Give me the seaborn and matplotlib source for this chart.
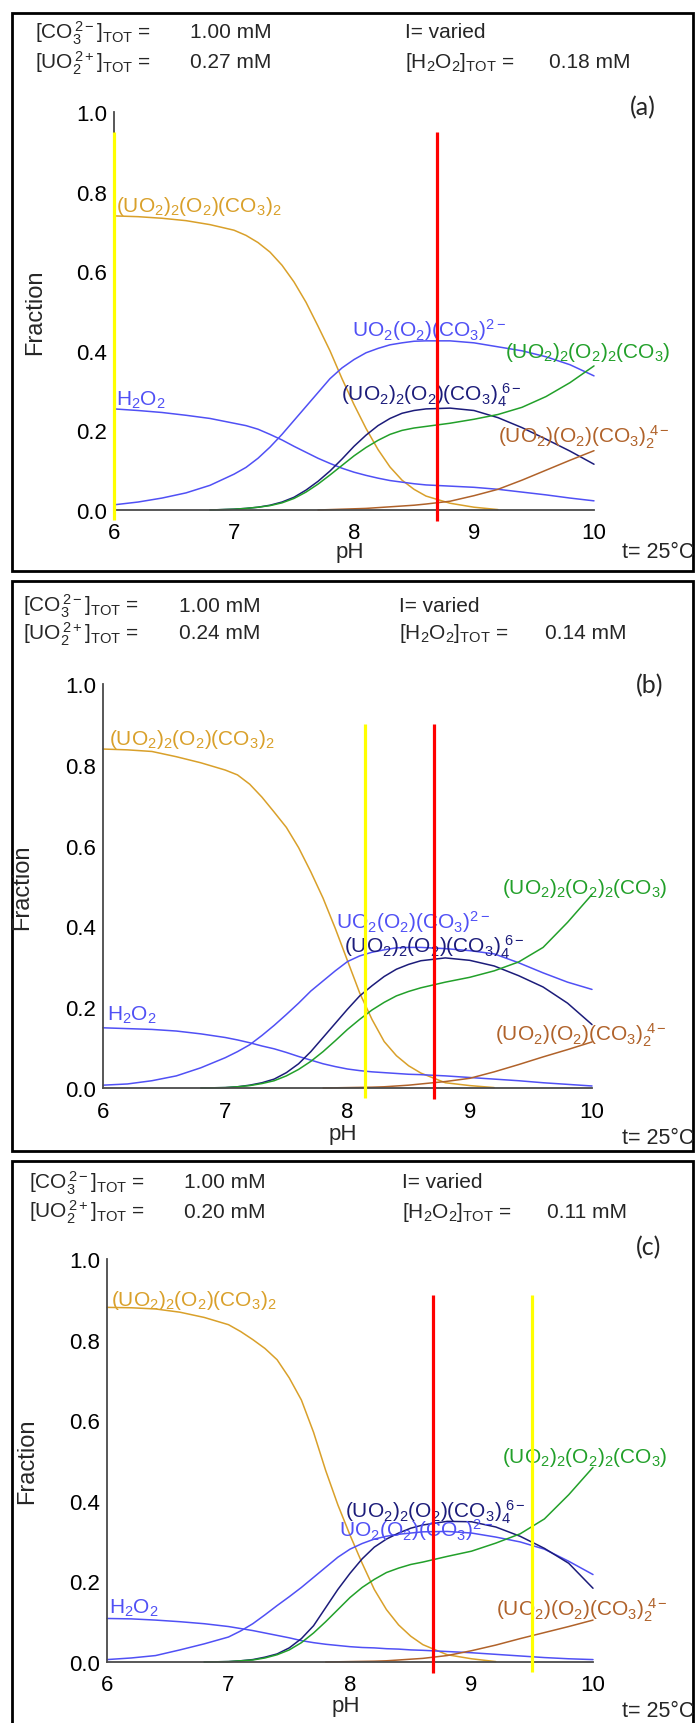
import numpy as np
import pandas as pd
import matplotlib
matplotlib.use("Agg")
import matplotlib.pyplot as plt
import seaborn as sns
from matplotlib.patches import Rectangle
from matplotlib.ticker import FixedLocator

# ---------------- data ----------------
ph = [6.0, 6.2, 6.4, 6.6, 6.8,
      7.0, 7.1, 7.2, 7.3, 7.4, 7.5, 7.6, 7.7, 7.8, 7.9, 8.0, 8.1, 8.2, 8.3, 8.4, 8.5, 8.6,
      8.8, 9.0, 9.2, 9.4, 9.6, 9.8, 10.0]
N = np.nan

# panel (a)
a_dimer_co3 = [.739, .737, .733, .727, .717,
               .703, .69, .672, .648, .615, .573, .522, .462, .40, .33, .265, .205, .152, .108, .075, .052, .035,
               .017, .007, .001, N, N, N, N]
a_mono = [.013, .02, .03, .043, .062,
          .09, .107, .13, .158, .19, .225, .26, .295, .33, .357, .378, .395, .406, .415, .42, .424, .425,
          .425, .42, .41, .40, .385, .365, .337]
a_h2o2 = [.254, .25, .245, .238, .23,
          .218, .212, .203, .19, .176, .16, .145, .13, .117, .105, .095, .087, .08, .074, .07, .066, .063,
          .06, .057, .052, .045, .038, .03, .023]
a_dimer_co34 = [N, N, N, N, 0.0,
                .002, .004, .007, .012, .02, .032, .05, .072, .098, .128, .16, .188, .212, .23, .243, .25, .254,
                .256, .25, .232, .207, .178, .148, .115]
a_dimer_o22 = [N, N, N, N, 0.0,
               .002, .004, .007, .011, .018, .029, .045, .065, .088, .112, .136, .157, .175, .19, .2, .206, .21,
               .218, .228, .24, .258, .285, .32, .362]
a_mono_co32 = [N, N, N, N, N,
               N, N, N, N, N, N, N, 0.0, .001, .002, .003, .004, .006, .008, .01, .012, .015,
               .022, .036, .052, .075, .1, .125, .149]

# panel (b)
b_dimer_co3 = [.839, .837, .833, .82, .805,
               .787, .775, .752, .72, .683, .645, .595, .535, .47, .395, .315, .235, .17, .115, .08, .055, .037,
               .013, .006, .001, N, N, N, N]
b_mono = [.007, .01, .018, .03, .05,
          .075, .09, .107, .13, .155, .182, .21, .24, .265, .29, .313, .327, .336, .342, .347, .348, .348,
          .345, .34, .332, .31, .285, .262, .244]
b_h2o2 = [.149, .147, .145, .141, .134,
          .125, .119, .112, .104, .097, .088, .078, .069, .06, .053, .047, .043, .04, .038, .036, .034, .033,
          .03, .026, .022, .018, .013, .009, .005]
b_dimer_co34 = [N, N, N, N, 0.0,
                .001, .003, .007, .013, .022, .038, .06, .09, .125, .16, .195, .228, .253, .276, .294, .306, .315,
                .322, .316, .302, .278, .25, .21, .157]
b_dimer_o22 = [N, N, N, N, 0.0,
               .001, .003, .006, .011, .018, .03, .046, .066, .09, .117, .145, .17, .193, .212, .228, .239, .248,
               .262, .274, .29, .312, .348, .41, .479]
b_mono_co32 = [N, N, N, N, N,
               N, N, N, N, N, N, N, N, 0.0, .0005, .001, .0015, .002, .003, .005, .007, .01,
               .016, .024, .04, .058, .077, .095, .114]

# panel (c)
c_dimer_co3 = [.88, .879, .876, .868, .855,
               .837, .82, .80, .778, .75, .705, .65, .57, .475, .39, .315, .245, .18, .13, .092, .064, .043,
               .018, .008, .001, N, N, N, N]
c_mono = [.006, .01, .016, .03, .045,
          .062, .077, .095, .117, .14, .162, .185, .21, .235, .26, .28, .294, .305, .312, .317, .32, .323,
          .324, .32, .31, .298, .28, .25, .217]
c_h2o2 = [.108, .107, .104, .1, .095,
          .088, .083, .078, .072, .066, .06, .053, .048, .044, .041, .038, .036, .035, .033, .032, .03, .029,
          .026, .023, .019, .015, .011, .008, .006]
c_dimer_co34 = [N, N, N, N, 0.0,
                .001, .003, .006, .012, .02, .035, .058, .09, .135, .18, .22, .256, .285, .305, .32, .332, .34,
                .349, .348, .335, .312, .282, .245, .183]
c_dimer_o22 = [N, N, N, N, 0.0,
               .001, .003, .005, .01, .018, .03, .048, .072, .1, .13, .16, .185, .205, .222, .233, .242, .248,
               .262, .275, .295, .318, .355, .415, .483]
c_mono_co32 = [N, N, N, N, N,
               N, N, N, N, N, N, N, N, 0.0, .0005, .001, .0015, .002, .003, .005, .007, .009,
               .016, .028, .042, .058, .073, .088, .104]

species = ["dimer_co3", "mono", "h2o2", "dimer_co34", "dimer_o22", "mono_co32"]
species_labels = {
    "dimer_co3": r"$\mathregular{(UO_2)_2(O_2)(CO_3)_2}$",
    "mono": r"$\mathregular{UO_2(O_2)(CO_3)^{2-}}$",
    "h2o2": r"$\mathregular{H_2O_2}$",
    "dimer_co34": r"$\mathregular{(UO_2)_2(O_2)(CO_3)_4^{\ 6-}}$",
    "dimer_o22": r"$\mathregular{(UO_2)_2(O_2)_2(CO_3)}$",
    "mono_co32": r"$\mathregular{(UO_2)(O_2)(CO_3)_2^{\ 4-}}$",
}
colors = {
    "dimer_co3": "#D9A02A",
    "mono": "#5050F5",
    "h2o2": "#5050F5",
    "dimer_co34": "#1C1C7A",
    "dimer_o22": "#22A02A",
    "mono_co32": "#B0622A",
}

panel_series = {
    "a": [a_dimer_co3, a_mono, a_h2o2, a_dimer_co34, a_dimer_o22, a_mono_co32],
    "b": [b_dimer_co3, b_mono, b_h2o2, b_dimer_co34, b_dimer_o22, b_mono_co32],
    "c": [c_dimer_co3, c_mono, c_h2o2, c_dimer_co34, c_dimer_o22, c_mono_co32],
}
co3_tot = ["1.00 mM", "1.00 mM", "1.00 mM"]
uo2_tot = ["0.27 mM", "0.24 mM", "0.20 mM"]
h2o2_tot = ["0.18 mM", "0.14 mM", "0.11 mM"]
yellow_ph = [6.0, 8.14, 9.50]
red_ph = [8.69, 8.71, 8.68]
vline_top = [0.95, 0.90, 0.91]

# label anchor positions (pH, fraction) per panel
label_pos = {
    "a": {"dimer_co3": (6.02, 0.765), "mono": (7.98, 0.455), "h2o2": (6.02, 0.279),
          "dimer_co34": (7.89, 0.29), "dimer_o22": (9.26, 0.397), "mono_co32": (9.2, 0.186)},
    "b": {"dimer_co3": (6.05, 0.864), "mono": (7.91, 0.413), "h2o2": (6.03, 0.183),
          "dimer_co34": (7.97, 0.351), "dimer_o22": (9.26, 0.497), "mono_co32": (9.21, 0.134)},
    "c": {"dimer_co3": (6.03, 0.90), "mono": (7.91, 0.33), "h2o2": (6.02, 0.136),
          "dimer_co34": (7.96, 0.375), "dimer_o22": (9.25, 0.511), "mono_co32": (9.2, 0.13)},
}

for k, lst in panel_series.items():
    for s in lst:
        assert len(s) == len(ph), (k, len(s))

# ---------------- style ----------------
sns.set_style("white")
plt.rcParams["font.family"] = ["Liberation Sans", "DejaVu Sans"]
plt.rcParams["mathtext.fontset"] = "custom"
plt.rcParams["mathtext.rm"] = "Liberation Sans"
plt.rcParams["mathtext.it"] = "Liberation Sans"
plt.rcParams["mathtext.default"] = "regular"

W, H = 695, 1724
fig = plt.figure(figsize=(W / 100, H / 100), dpi=100)

boxes = [(12, 14, 693, 572), (12, 582, 693, 1152), (12, 1162, 693, 1735)]
axes_px = [  # x(pH 6), x(pH 10), y(1.0), y(0.0)
    (114, 594, 113, 511),
    (103, 592, 685, 1089),
    (107, 593, 1260, 1663),
]
header_px = [  # left x, value x, right x, right value x, row1 y, row2 y
    (35, 190, 405, 549, 33, 63),
    (23, 179, 399, 545, 606, 634),
    (29, 184, 402, 547, 1183, 1212),
]
letter_px = [(630, 108), (636, 686), (636, 1248)]
ylab_px = [35, 22, 27]
ph_px = [(350, 553), (343, 1135), (346, 1707)]
temp_px = [553, 1138, 1712]
YMIN, YMAX = -0.04, 1.0


def fx(x):
    return x / W


def fy(y):
    return 1 - y / H


axcol = "#4a4a4a"
for i, key in enumerate(["a", "b", "c"]):
    x0, y0, x1, y1 = boxes[i]
    fig.patches.append(Rectangle((fx(x0), fy(y1)), fx(x1) - fx(x0), fy(y0) - fy(y1),
                                 transform=fig.transFigure, fill=False, ec="black", lw=2.0))
    l, r, ytop, yzero = axes_px[i]
    scale = yzero - ytop
    ybot = yzero - YMIN * scale
    ax = fig.add_axes([fx(l), fy(ybot), fx(r) - fx(l), (ybot - ytop) / H])
    ax.set_facecolor("none")

    rows = []
    for sp, vals in zip(species, panel_series[key]):
        for p, v in zip(ph, vals):
            if not np.isnan(v):
                rows.append({"pH": p, "fraction": v, "species": sp})
    df = pd.DataFrame(rows)
    sns.lineplot(data=df, x="pH", y="fraction", hue="species", units="species",
                 estimator=None, sort=False, palette=colors, legend=False,
                 linewidth=1.1, ax=ax)
    for line in ax.lines:
        line.set_clip_on(False)

    ax.vlines(yellow_ph[i], -0.025, vline_top[i], color="#FFFF00", lw=2.3, zorder=5, clip_on=False)
    ax.vlines(red_ph[i], -0.028, vline_top[i], color="#FF0000", lw=2.3, zorder=6, clip_on=False)

    for sp in species:
        px, py = label_pos[key][sp]
        ax.text(px, py, species_labels[sp], color=colors[sp], fontsize=15,
                ha="left", va="center", zorder=4)

    ax.set_xlim(6, 10)
    ax.set_ylim(YMIN, YMAX)
    for s in ["top", "right"]:
        ax.spines[s].set_visible(False)
    ax.spines["left"].set_bounds(0, 1)
    ax.spines["bottom"].set_position(("data", 0))
    ax.spines["bottom"].set_bounds(6, 10)
    for s in ["left", "bottom"]:
        ax.spines[s].set_color(axcol)
        ax.spines[s].set_linewidth(1.3)
    ax.xaxis.set_major_locator(FixedLocator([6, 7, 8, 9, 10]))
    ax.xaxis.set_minor_locator(FixedLocator([6.5, 7.5, 8.5, 9.5]))
    ax.yaxis.set_major_locator(FixedLocator([0, 0.2, 0.4, 0.6, 0.8, 1.0]))
    ax.yaxis.set_minor_locator(FixedLocator([0.1, 0.3, 0.5, 0.7, 0.9]))
    ax.set_xticklabels(["6", "7", "8", "9", "10"])
    ax.set_yticklabels(["0.0", "0.2", "0.4", "0.6", "0.8", "1.0"])
    ax.tick_params(axis="both", which="both", direction="in", length=5, width=1.2,
                   color=axcol, labelsize=16, labelcolor="black")
    ax.tick_params(axis="x", which="both", pad=9)
    ax.tick_params(axis="y", which="both", pad=5)
    ax.set_xlabel("")
    ax.set_ylabel("")

    # headers
    lx, vx, rx, rvx, r1, r2 = header_px[i]
    hs = 15
    fig.text(fx(lx), fy(r1), r"$\mathregular{[CO_3^{\,2-}]_{TOT}}$ =", fontsize=hs, va="center", ha="left")
    fig.text(fx(vx), fy(r1), co3_tot[i], fontsize=hs, va="center", ha="left")
    fig.text(fx(lx), fy(r2), r"$\mathregular{[UO_2^{\,2+}]_{TOT}}$ =", fontsize=hs, va="center", ha="left")
    fig.text(fx(vx), fy(r2), uo2_tot[i], fontsize=hs, va="center", ha="left")
    fig.text(fx(rx), fy(r1), "I= varied", fontsize=hs, va="center", ha="left")
    fig.text(fx(rx), fy(r2), r"$\mathregular{[H_2O_2]_{TOT}}$ =", fontsize=hs, va="center", ha="left")
    fig.text(fx(rvx), fy(r2), h2o2_tot[i], fontsize=hs, va="center", ha="left")

    ltx, lty = letter_px[i]
    fig.text(fx(ltx), fy(lty), f"({key})", fontsize=18, va="center", ha="left",
             family=["Lato", "DejaVu Sans"])
    fig.text(fx(ylab_px[i]), fy((ytop + yzero) / 2), "Fraction", rotation=90,
             fontsize=17, va="center", ha="center")
    phx, phy = ph_px[i]
    fig.text(fx(phx), fy(phy), "pH", fontsize=16, va="center", ha="center")
    fig.text(fx(694), fy(temp_px[i]), "t= 25°C", fontsize=15.5, va="center", ha="right")

fig.savefig("out.png", dpi=100)
